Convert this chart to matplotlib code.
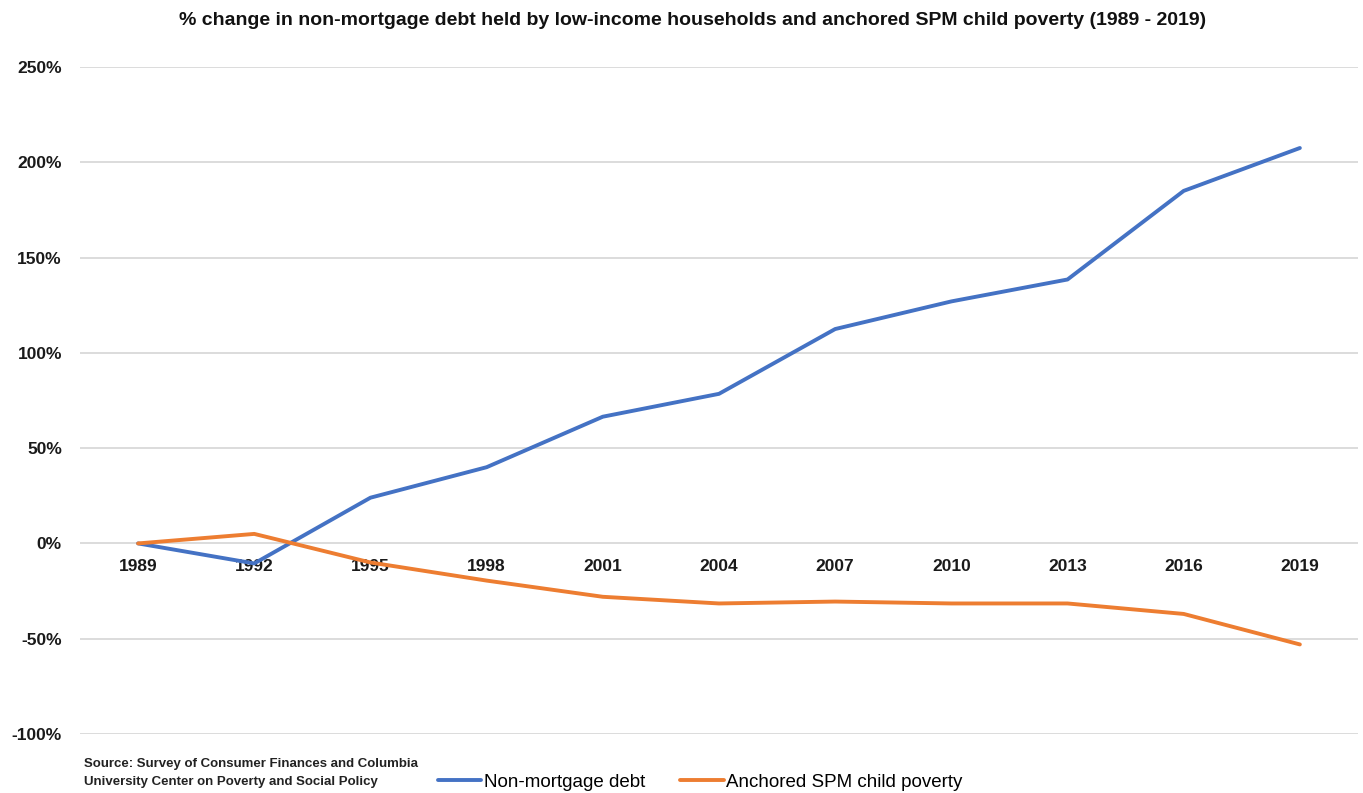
import matplotlib
matplotlib.use("Agg")
import matplotlib.pyplot as plt
from matplotlib.ticker import FuncFormatter

plt.rcParams["font.family"] = ["Liberation Sans", "DejaVu Sans"]

years = ["1989", "1992", "1995", "1998", "2001", "2004", "2007", "2010", "2013", "2016", "2019"]
debt = [0, -10.5, 24, 40, 66.5, 78.5, 112.5, 127, 138.5, 185, 207.5]
poverty = [0, 5, -10, -19.5, -28, -31.5, -30.5, -31.5, -31.5, -37, -53]

BLUE = "#4472C4"
ORANGE = "#ED7D31"

fig = plt.figure(figsize=(13.63, 7.93), dpi=100)
ax = fig.add_axes([0.0587, 0.0744, 0.9376, 0.8411])

x = range(len(years))
ax.plot(x, debt, color=BLUE, lw=2.8, solid_capstyle="round", label="Non-mortgage debt", zorder=3)
ax.plot(x, poverty, color=ORANGE, lw=2.8, solid_capstyle="round", label="Anchored SPM child poverty", zorder=3)

ax.set_xlim(-0.5, len(years) - 0.5)
ax.set_ylim(-100, 250)
ax.set_yticks(range(-100, 251, 50))
ax.yaxis.set_major_formatter(FuncFormatter(lambda v, _: f"{v:.0f}%"))
ax.grid(axis="y", color="#D9D9D9", lw=1.3)
ax.set_axisbelow(True)

# category labels sit just below the zero line
ax.set_xticks(list(x))
ax.set_xticklabels(years)
ax.spines["bottom"].set_position(("data", 0))
for s in ax.spines.values():
    s.set_visible(False)
ax.tick_params(axis="x", length=0, pad=11, labelsize=12.5)
ax.tick_params(axis="y", length=0, pad=13, labelsize=12.5)
for lab in ax.get_xticklabels() + ax.get_yticklabels():
    lab.set_fontweight("bold")
    lab.set_color("#1a1a1a")

fig.text(0.508, 0.974, "% change in non-mortgage debt held by low-income households and anchored SPM child poverty (1989 - 2019)",
         ha="center", va="center", fontsize=14, fontweight="bold", color="#111111")

fig.text(0.0616, 0.025, "Source: Survey of Consumer Finances and Columbia\nUniversity Center on Poverty and Social Policy",
         ha="left", va="center", fontsize=9.5, fontweight="bold", color="#222222", linespacing=1.6)

ax.legend(loc="center left", bbox_to_anchor=(0.274, -0.072), ncol=2, frameon=False,
          fontsize=13.5, handlelength=2.3, handletextpad=0.15, columnspacing=1.9,
          borderaxespad=0)

fig.savefig("out.png", dpi=100)
